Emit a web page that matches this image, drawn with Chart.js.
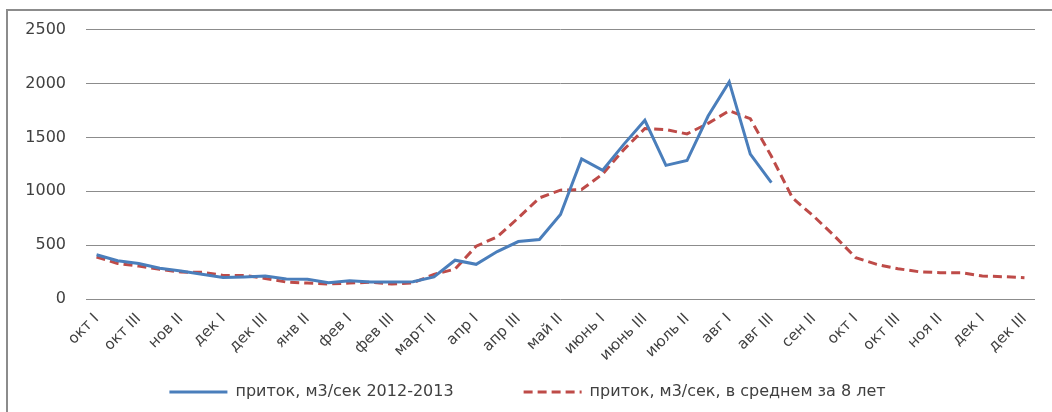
<!DOCTYPE html>
<html>
<head>
<meta charset="utf-8">
<script src="https://cdn.jsdelivr.net/npm/chart.js@4"></script>
<style>
  html, body { margin: 0; padding: 0; background: #fff; }
  #wrap { position: relative; width: 1052px; height: 412px; overflow: hidden; }
  #frame { position: absolute; left: 6px; top: 9px; width: 1100px; height: 500px;
           border-left: 2px solid #8c8c8c; border-top: 2px solid #8c8c8c; }
  canvas { position: absolute; left: 0; top: 0; }
</style>
</head>
<body>
<div id="wrap">
  <div id="frame"></div>
  <canvas id="flowChart" width="1052" height="412"></canvas>
</div>
<script>
const categories = [
  'окт I', 'окт II', 'окт III', 'нов I', 'нов II', 'нов III', 'дек I', 'дек II', 'дек III',
  'янв I', 'янв II', 'янв III', 'фев I', 'фев II', 'фев III', 'март I', 'март II', 'март III',
  'апр I', 'апр II', 'апр III', 'май I', 'май II', 'май III', 'июнь I', 'июнь II', 'июнь III',
  'июль I', 'июль II', 'июль III', 'авг I', 'авг II', 'авг III', 'сен I', 'сен II', 'сен III',
  'окт I', 'окт II', 'окт III', 'ноя I', 'ноя II', 'ноя III', 'дек I', 'дек II', 'дек III'
];
const flow2012 = [
  410, 355, 330, 285, 260, 230, 200, 205, 213,
  185, 183, 150, 170, 158, 158, 160, 205, 360,
  322, 440, 533, 552, 785, 1300, 1195, 1435, 1658,
  1240, 1285, 1698, 2015, 1345, 1080
];
const flowAverage = [
  390, 330, 305, 275, 250, 248, 219, 219, 191,
  157, 148, 139, 148, 155, 140, 150, 228, 278,
  490, 577, 753, 938, 1010, 1016, 1160, 1386, 1582,
  1572, 1532, 1630, 1747, 1673, 1324, 938, 769, 583,
  383, 321, 281, 253, 244, 244, 213, 207, 198
];
const yTicks = [0, 500, 1000, 1500, 2000, 2500];
const seriesNames = ['приток, м3/сек 2012-2013', 'приток, м3/сек, в среднем за 8 лет'];

const ctx = document.getElementById('flowChart').getContext('2d');
const textColor = '#404040';

new Chart(ctx, {
  type: 'line',
  data: {
    labels: categories,
    datasets: [{
      label: seriesNames[0],
      data: flow2012,
      borderColor: '#4a7ebb',
      backgroundColor: '#4a7ebb',
      borderWidth: 3,
      pointRadius: 0,
      tension: 0,
      fill: false
    }, {
      label: seriesNames[1],
      data: flowAverage,
      borderColor: '#be4b48',
      backgroundColor: '#be4b48',
      borderWidth: 3,
      borderDash: [9, 5],
      pointRadius: 0,
      tension: 0,
      fill: false
    }]
  },
  options: {
    responsive: false,
    animation: false,
    layout: { padding: { left: 20, right: 17, top: 29, bottom: 2 } },
    plugins: {
      tooltip: { enabled: false },
      legend: {
        position: 'bottom',
        labels: {
          usePointStyle: true,
          pointStyle: 'line',
          pointStyleWidth: 58,
          boxHeight: 16,
          padding: 70,
          color: textColor,
          font: { family: 'DejaVu Sans', size: 16 },
          // legend samples should look like the series lines (dash + width)
          generateLabels: chart => {
            const items = Chart.defaults.plugins.legend.labels.generateLabels(chart);
            items.forEach(item => {
              const ds = chart.data.datasets[item.datasetIndex];
              item.lineDash = ds.borderDash || [];
              item.lineWidth = ds.borderWidth;
              item.strokeStyle = ds.borderColor;
            });
            return items;
          }
        }
      }
    },
    scales: {
      x: {
        offset: true,
        grid: { display: false, drawTicks: false },
        border: { display: false },
        afterFit: scale => {
          // keep the axis box short so the legend's big padding fits, and don't clip labels to it
          scale.height = 15;
          scale._computeLabelArea = () => undefined;
        },
        ticks: {
          autoSkip: false,
          maxRotation: 45,
          minRotation: 45,
          padding: 11,
          color: textColor,
          font: { family: 'DejaVu Sans', size: 15 },
          callback: (value, index) => index % 2 === 0 ? categories[index] : ''
        }
      },
      y: {
        min: 0,
        max: 2500,
        afterFit: scale => { scale.width = 66; },
        afterBuildTicks: scale => { scale.ticks = yTicks.map(v => ({ value: v })); },
        grid: { color: '#8c8c8c', lineWidth: 1, drawTicks: false },
        border: { display: false },
        ticks: {
          padding: 20,
          color: textColor,
          font: { family: 'DejaVu Sans', size: 16 },
          callback: value => String(value)
        }
      }
    }
  }
});
</script>
</body>
</html>
